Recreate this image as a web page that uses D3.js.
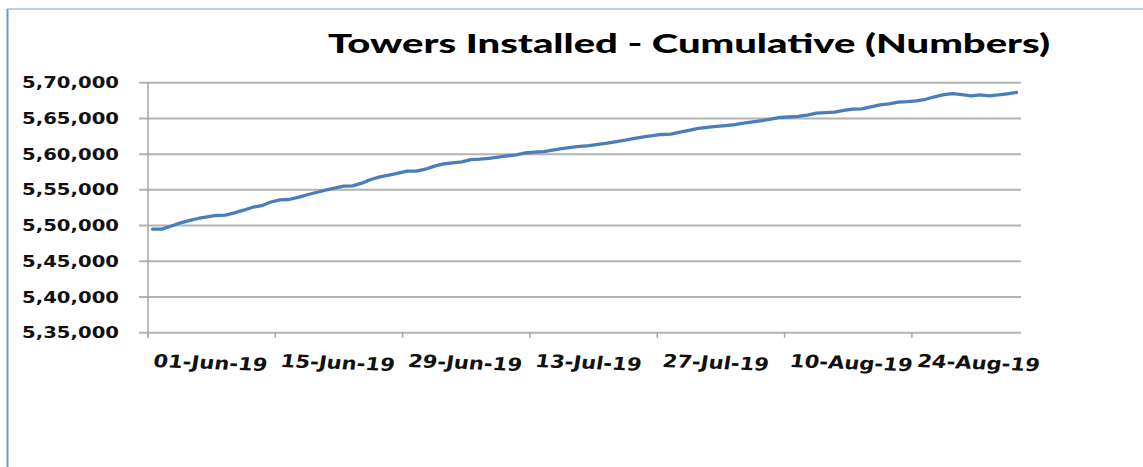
<!DOCTYPE html>
<html><head><meta charset="utf-8">
<script src="https://cdn.jsdelivr.net/npm/d3@7"></script>
<style>body{margin:0;background:#fff;}svg{display:block;}</style>
</head><body>
<svg id="c" width="1143" height="467"></svg>
<script>
const title = "Towers Installed - Cumulative (Numbers)";
const startDate = "2019-06-01";
const values = [549500,549500,549900,550350,550680,550990,551200,551410,551450,551770,
552150,552570,552780,553300,553600,553650,553940,554310,554630,554950,
555240,555510,555550,555930,556450,556810,557060,557330,557610,557610,
557890,558320,558630,558790,558910,559220,559290,559420,559570,559740,
559910,560160,560280,560350,560560,560760,560940,561080,561190,561380,
561540,561750,561950,562190,562430,562580,562750,562790,563070,563340,
563590,563740,563880,563990,564120,564340,564530,564690,564900,565130,
565200,565280,565460,565730,565810,565870,566110,566290,566330,566610,
566890,567050,567270,567350,567470,567680,568010,568330,568470,568330,
568170,568290,568170,568290,568450,568630];
const yTicks = [535000,540000,545000,550000,555000,560000,565000,570000];
const yTickLabels = ["5,35,000","5,40,000","5,45,000","5,50,000","5,55,000","5,60,000","5,65,000","5,70,000"];
const xTickDates = ["2019-06-01","2019-06-15","2019-06-29","2019-07-13","2019-07-27","2019-08-10","2019-08-24"];
const xTickLabels = ["01-Jun-19","15-Jun-19","29-Jun-19","13-Jul-19","27-Jul-19","10-Aug-19","24-Aug-19"];

const parse = d3.utcParse("%Y-%m-%d");
const day = 864e5;
const d0 = parse(startDate);
const data = values.map((v,i)=>({date:new Date(+d0 + i*day), v}));

const svg = d3.select("#c");
const L = 148, R = 1021, T = 82.7, B = 332.7;
const x = d3.scaleUtc().domain([d0, new Date(+d0 + values.length*day)]).range([L, R]);
const y = d3.scaleLinear().domain([535000, 570000]).range([B, T]);
const mid = d => new Date(+d + day/2);

// border
svg.append("line").attr("x1",7).attr("x2",1143).attr("y1",9).attr("y2",9).attr("stroke","#a9c0dc").attr("stroke-width",1.5);
svg.append("line").attr("x1",7.5).attr("x2",7.5).attr("y1",9).attr("y2",467).attr("stroke","#6f99cf").attr("stroke-width",2);

// gridlines (+ outward ticks)
svg.append("g").selectAll("line").data(yTicks).join("line")
  .attr("x1",L-9).attr("x2",R).attr("y1",d=>y(d)).attr("y2",d=>y(d))
  .attr("stroke","#b3b3b3").attr("stroke-width",2);

// y axis line
svg.append("line").attr("x1",L).attr("x2",L).attr("y1",T).attr("y2",B+5).attr("stroke","#a6a6a6").attr("stroke-width",1.5);
// x ticks
svg.append("g").selectAll("line").data(xTickDates.map(parse)).join("line")
  .attr("x1",d=>x(d)).attr("x2",d=>x(d)).attr("y1",B).attr("y2",B+5)
  .attr("stroke","#a6a6a6").attr("stroke-width",1.5);

// y labels
svg.append("g").selectAll("text").data(yTicks).join("text")
  .attr("x",22).attr("y",d=>y(d)+5.6)
  .attr("font-family","DejaVu Sans").attr("font-weight","bold").attr("font-size",15.5)
  .attr("fill","#111")
  .text((d,i)=>yTickLabels[i])
  .attr("textLength",97).attr("lengthAdjust","spacingAndGlyphs");

// x labels
const xl = svg.append("g").selectAll("text").data(xTickDates.map(parse)).join("text")
  .attr("font-family","DejaVu Sans").attr("font-weight","bold").attr("font-size",18)
  .attr("fill","#111")
  .text((d,i)=>xTickLabels[i]);
let f = 1;
xl.each(function(d,i){ if(i===0){ f = 114/this.getComputedTextLength(); } });
xl.each(function(d){
  const w = this.getComputedTextLength();
  const px = x(mid(d)), py = 367;
  d3.select(this).attr("x",0).attr("y",0)
    .attr("textLength",w*f).attr("lengthAdjust","spacingAndGlyphs")
    .attr("transform",`translate(${px},${py}) rotate(2) skewX(-7)`);
});

// line
svg.append("path").datum(data)
  .attr("fill","none").attr("stroke","#4a7ebb").attr("stroke-width",3.3)
  .attr("stroke-linejoin","round").attr("stroke-linecap","round")
  .attr("d", d3.line().x(d=>x(mid(d.date))).y(d=>y(d.v)));

// title
svg.append("text").attr("x",328).attr("y",53)
  .attr("font-family","Lato").attr("font-weight","900").attr("font-size",27)
  .attr("fill","#000").text(title)
  .attr("textLength",722).attr("lengthAdjust","spacingAndGlyphs");
</script>
</body></html>
